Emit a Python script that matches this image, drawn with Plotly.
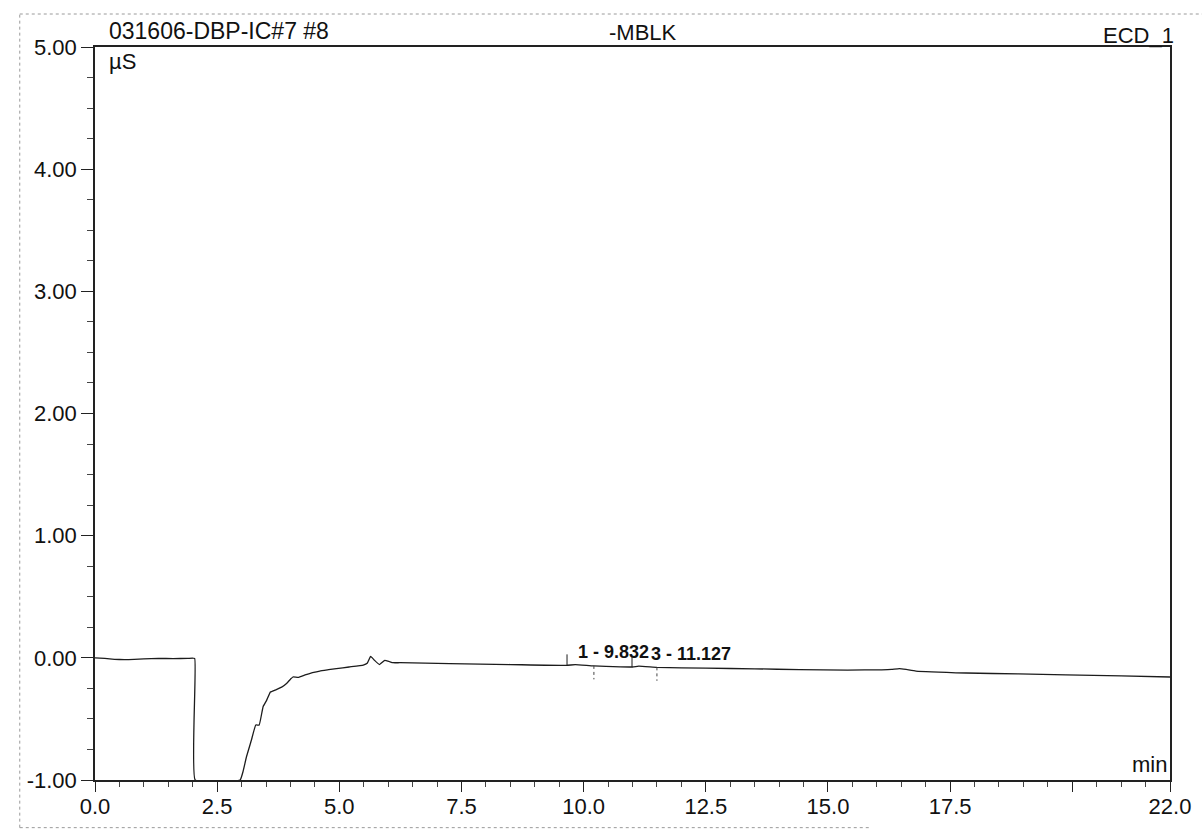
import numpy as np
import plotly.graph_objects as go

# Chromatogram trace: retention time (min) vs conductivity (µS)
time_min = [0, 0.2, 0.4, 0.6, 0.8, 1.0, 1.3, 1.6, 1.9, 2.04,
            2.05, 2.97, 3.03, 3.1, 3.2, 3.29, 3.36, 3.44, 3.51, 3.59,
            3.71, 3.82, 3.92, 4.0, 4.05, 4.16, 4.3, 4.45, 4.6, 4.78,
            4.94, 5.2, 5.49, 5.57, 5.64, 5.72, 5.82, 5.93, 6.02, 6.10,
            6.24, 7.26, 8.5, 9.65, 9.83, 10.2, 11.0, 11.13, 11.5, 12.5,
            13.5, 14.42, 15.4, 16.1, 16.3, 16.46, 16.6, 16.8, 17.83, 18.9,
            19.87, 21.0, 22.0]
signal_us = [0.0, -0.005, -0.012, -0.015, -0.013, -0.008, -0.005, -0.006, -0.005, -0.005,
             -1.0, -1.0, -0.93, -0.81, -0.675, -0.55, -0.55, -0.40, -0.35, -0.28,
             -0.26, -0.24, -0.21, -0.175, -0.157, -0.16, -0.14, -0.122, -0.108, -0.097,
             -0.088, -0.075, -0.06, -0.045, 0.012, -0.02, -0.055, -0.02, -0.03, -0.04,
             -0.04, -0.048, -0.055, -0.062, -0.055, -0.066, -0.075, -0.068, -0.078, -0.085,
             -0.09, -0.097, -0.10, -0.098, -0.095, -0.088, -0.095, -0.108, -0.124, -0.132,
             -0.14, -0.148, -0.157]

# Integrated peaks
peak_labels = ["1 - 9.832", "3 - 11.127"]
peak_times = [9.832, 11.127]
peak_starts = [9.66, 10.99]
peak_ends = [10.21, 11.50]

# Axis ticks
x_tickvals = [0, 2.5, 5.0, 7.5, 10.0, 12.5, 15.0, 17.5, 20.0, 22.0]
x_ticktext = ["0.0", "2.5", "5.0", "7.5", "10.0", "12.5", "15.0", "17.5", "", "22.0"]
y_tickvals = [-1, 0, 1, 2, 3, 4, 5]
y_ticktext = ["-1.00", "0.00", "1.00", "2.00", "3.00", "4.00", "5.00"]

FONT = "Liberation Sans, Arial, sans-serif"
INK = "#1c1c1c"
TXT = "#111"

t = np.array(time_min)
s = np.array(signal_us)

fig = go.Figure()
fig.add_trace(go.Scatter(x=time_min, y=signal_us, mode="lines",
                         line=dict(color=INK, width=1.3, shape="spline", smoothing=0.3),
                         hoverinfo="x+y", showlegend=False))

# Peak delimiter marks: start ticks point up, end ticks dotted and pointing down
up_x, up_y, dn_x, dn_y = [], [], [], []
for a, b in zip(peak_starts, peak_ends):
    ya = float(np.interp(a, t, s))
    yb = float(np.interp(b, t, s))
    up_x += [a, a, None]
    up_y += [ya, ya + 0.09, None]
    dn_x += [b, b, None]
    dn_y += [yb, yb - 0.11, None]
fig.add_trace(go.Scatter(x=up_x, y=up_y, mode="lines",
                         line=dict(color=INK, width=1), showlegend=False, hoverinfo="skip"))
fig.add_trace(go.Scatter(x=dn_x, y=dn_y, mode="lines",
                         line=dict(color="#444", width=1, dash="dot"), showlegend=False, hoverinfo="skip"))

# Peak labels sit just right of their retention time; the second is nudged so the two do not collide
label_shifts = [1, 10]
annotations = []
for lab, pt, dx in zip(peak_labels, peak_times, label_shifts):
    py = float(np.interp(pt, t, s))
    annotations.append(dict(x=pt, y=py + 0.1, xref="x", yref="y", text="<b>" + lab + "</b>",
                            showarrow=False, xanchor="left", yanchor="middle", xshift=dx,
                            font=dict(family=FONT, size=18, color=TXT)))

# Header texts and axis units
annotations += [
    dict(x=0.011, y=1.0, xref="paper", yref="paper", text="031606-DBP-IC#7 #8",
         showarrow=False, xanchor="left", yanchor="bottom", yshift=1,
         font=dict(family=FONT, size=23, color=TXT)),
    dict(x=0.51, y=1.0, xref="paper", yref="paper", text="-MBLK",
         showarrow=False, xanchor="center", yanchor="bottom", yshift=0,
         font=dict(family=FONT, size=22, color=TXT)),
    dict(x=1.0, y=1.0, xref="paper", yref="paper", text="ECD_1",
         showarrow=False, xanchor="right", yanchor="bottom", yshift=-3, xshift=6,
         font=dict(family=FONT, size=22, color=TXT)),
    dict(x=0.011, y=1.0, xref="paper", yref="paper", text="µS",
         showarrow=False, xanchor="left", yanchor="top", yshift=0,
         font=dict(family=FONT, size=22, color=TXT)),
    dict(x=1.0, y=0.0, xref="paper", yref="paper", text="min",
         showarrow=False, xanchor="right", yanchor="bottom", xshift=-1, yshift=1,
         font=dict(family=FONT, size=22, color=TXT)),
]

# Dotted page border around the printed chart
border = dict(color="#9a9a9a", width=1, dash="dot")
shapes = [
    dict(type="line", xref="paper", yref="paper", x0=-0.07, x1=1.03, y0=1.045, y1=1.045, line=border),
    dict(type="line", xref="paper", yref="paper", x0=-0.07, x1=-0.07, y0=-0.065, y1=1.045, line=border),
    dict(type="line", xref="paper", yref="paper", x0=-0.07, x1=0.72, y0=-0.065, y1=-0.065, line=border),
]

fig.update_layout(
    width=1202, height=840,
    margin=dict(l=95, r=32, t=47, b=60),
    paper_bgcolor="white", plot_bgcolor="white",
    font=dict(family=FONT, size=22, color=TXT),
    annotations=annotations, shapes=shapes,
    showlegend=False,
)
fig.update_xaxes(
    range=[0, 22], showgrid=False, zeroline=False,
    showline=True, linecolor="#222", linewidth=1.5, mirror=True,
    tickmode="array", tickvals=x_tickvals, ticktext=x_ticktext,
    ticks="outside", ticklen=10, tickwidth=1, tickcolor="#222",
    ticklabelstandoff=-4,
    tickfont=dict(family=FONT, size=22, color=TXT),
    minor=dict(dtick=0.5, tick0=0, ticks="outside", ticklen=5, tickcolor="#444", showgrid=False),
)
fig.update_yaxes(
    range=[-1, 5], showgrid=False, zeroline=False,
    showline=True, linecolor="#222", linewidth=1.5, mirror=True,
    tickmode="array", tickvals=y_tickvals, ticktext=y_ticktext,
    ticks="outside", ticklen=12, tickwidth=1, tickcolor="#222",
    tickfont=dict(family=FONT, size=22, color=TXT),
    minor=dict(dtick=0.25, tick0=0, ticks="outside", ticklen=6, tickcolor="#444", showgrid=False),
)

fig.write_html("out.html")
